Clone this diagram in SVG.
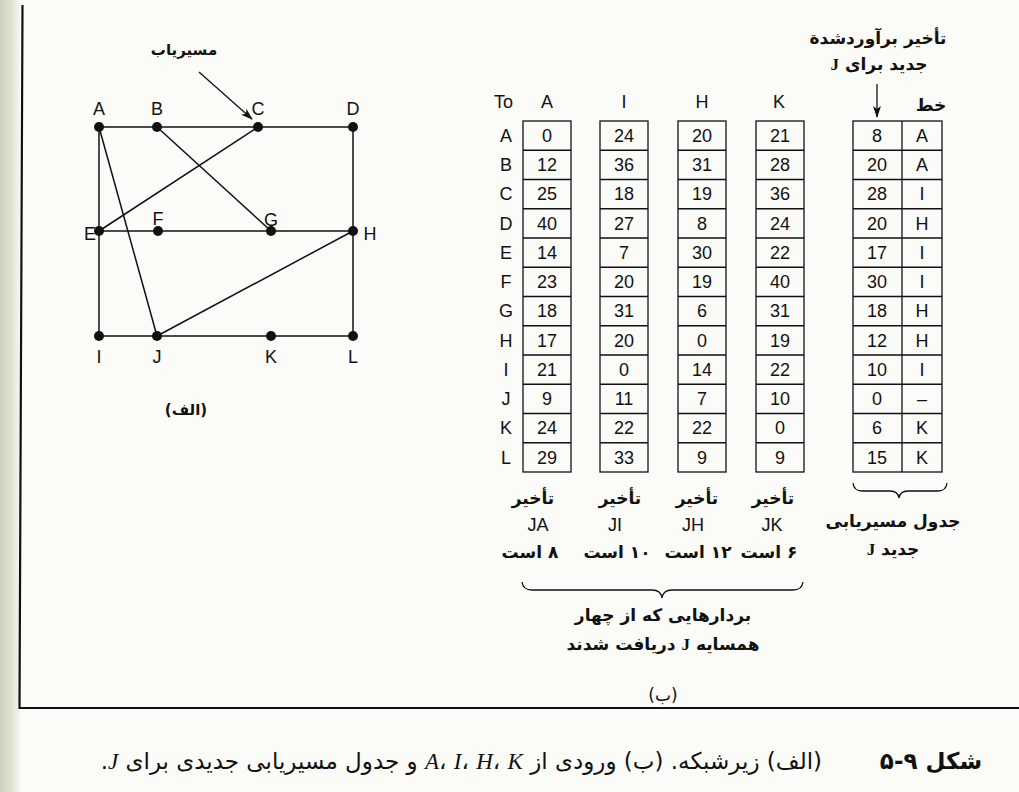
<svg xmlns="http://www.w3.org/2000/svg" width="1019" height="792" viewBox="0 0 1019 792">
<defs>
<linearGradient id="strip" x1="0" y1="0" x2="1" y2="0">
<stop offset="0" stop-color="#cfd0bd"/>
<stop offset="0.6" stop-color="#e2e2d3"/>
<stop offset="1" stop-color="#f6f6f0"/>
</linearGradient>
<marker id="ah" viewBox="0 0 12 8" refX="11" refY="4" markerWidth="12" markerHeight="8" markerUnits="userSpaceOnUse" orient="auto">
<path d="M0,0 L12,4 L0,8 L3,4 Z" fill="#111"/>
</marker>
<style>
.lat{font-family:"Liberation Sans",Arial,sans-serif;fill:#111;}
.fa{font-family:"DejaVu Sans","Noto Sans",sans-serif;fill:#111;}
.fb{font-family:"DejaVu Sans","Noto Sans",sans-serif;fill:#111;font-weight:bold;}
.edge{stroke:#111;stroke-width:1.5;fill:none;}
.nd{fill:#111;}
.box{fill:none;stroke:#111;stroke-width:1.3;}
.num{font-family:"Liberation Sans",Arial,sans-serif;font-size:18px;fill:#111;text-anchor:middle;}
.lbl{font-family:"Liberation Sans",Arial,sans-serif;font-size:18px;fill:#111;text-anchor:middle;}
.brace{fill:none;stroke:#111;stroke-width:1.3;}
</style>
</defs>
<rect x="0" y="0" width="1019" height="792" fill="#fbfbf8"/>
<rect x="0" y="0" width="20" height="792" fill="url(#strip)"/>
<path d="M22.5,5 L19.5,708 L1019,708" fill="none" stroke="#111" stroke-width="2.2"/>

<!-- (a) graph -->
<g id="connectors">
<line class="edge" x1="99" y1="127" x2="353" y2="127"/>
<line class="edge" x1="99" y1="127" x2="99" y2="336"/>
<line class="edge" x1="353" y1="127" x2="353" y2="336"/>
<line class="edge" x1="99" y1="231" x2="353" y2="231"/>
<line class="edge" x1="99" y1="336" x2="353" y2="336"/>
<line class="edge" x1="99" y1="127" x2="157" y2="336"/>
<line class="edge" x1="157" y1="127" x2="271" y2="231"/>
<line class="edge" x1="258" y1="127" x2="99" y2="231"/>
<line class="edge" x1="157" y1="336" x2="353" y2="231"/>
<line x1="199" y1="72" x2="252" y2="119" stroke="#111" stroke-width="1.3" marker-end="url(#ah)"/>
</g>
<text class="fb" x="184" y="55" font-size="15" text-anchor="middle" direction="rtl">مسیریاب</text>

<g id="node-A"><circle class="nd" cx="99" cy="127" r="5"/><text class="lbl" x="99" y="115">A</text></g>
<g id="node-B"><circle class="nd" cx="157" cy="127" r="5"/><text class="lbl" x="157" y="115">B</text></g>
<g id="node-C"><circle class="nd" cx="258" cy="127" r="5"/><text class="lbl" x="258" y="115">C</text></g>
<g id="node-D"><circle class="nd" cx="353" cy="127" r="5"/><text class="lbl" x="353" y="115">D</text></g>
<g id="node-E"><circle class="nd" cx="99" cy="231" r="5"/><text class="lbl" x="90" y="240">E</text></g>
<g id="node-F"><circle class="nd" cx="158" cy="231" r="5"/><text class="lbl" x="158" y="225">F</text></g>
<g id="node-G"><circle class="nd" cx="271" cy="231" r="5"/><text class="lbl" x="271" y="226">G</text></g>
<g id="node-H"><circle class="nd" cx="353" cy="231" r="5"/><text class="lbl" x="370" y="240">H</text></g>
<g id="node-I"><circle class="nd" cx="99" cy="336" r="5"/><text class="lbl" x="99" y="363">I</text></g>
<g id="node-J"><circle class="nd" cx="157" cy="336" r="5"/><text class="lbl" x="157" y="363">J</text></g>
<g id="node-K"><circle class="nd" cx="271" cy="336" r="5"/><text class="lbl" x="271" y="363">K</text></g>
<g id="node-L"><circle class="nd" cx="353" cy="336" r="5"/><text class="lbl" x="353" y="363">L</text></g>
<text class="fb" x="186" y="415" font-size="15" text-anchor="middle" direction="rtl">(الف)</text>

<!-- (b) tables -->
<g id="header">
<text class="lat" x="494" y="108" font-size="18">To</text>
<text class="lbl" x="547" y="108">A</text>
<text class="lbl" x="624" y="108">I</text>
<text class="lbl" x="702" y="108">H</text>
<text class="lbl" x="779" y="108">K</text>
</g>
<g id="row-labels">
<text class="lbl" x="506" y="142">A</text>
<text class="lbl" x="506" y="171">B</text>
<text class="lbl" x="506" y="200">C</text>
<text class="lbl" x="506" y="230">D</text>
<text class="lbl" x="506" y="259">E</text>
<text class="lbl" x="506" y="288">F</text>
<text class="lbl" x="506" y="317">G</text>
<text class="lbl" x="506" y="347">H</text>
<text class="lbl" x="506" y="376">I</text>
<text class="lbl" x="506" y="405">J</text>
<text class="lbl" x="506" y="434">K</text>
<text class="lbl" x="506" y="464">L</text>
</g>

<g id="vec-A">
<rect class="box" x="523" y="121" width="48" height="351"/>
<path class="box" d="M523,150.25H571M523,179.5H571M523,208.75H571M523,238H571M523,267.25H571M523,296.5H571M523,325.75H571M523,355H571M523,384.25H571M523,413.5H571M523,442.75H571"/>
<text class="num" x="547" y="142">0</text><text class="num" x="547" y="171">12</text><text class="num" x="547" y="200">25</text><text class="num" x="547" y="230">40</text><text class="num" x="547" y="259">14</text><text class="num" x="547" y="288">23</text><text class="num" x="547" y="317">18</text><text class="num" x="547" y="347">17</text><text class="num" x="547" y="376">21</text><text class="num" x="547" y="405">9</text><text class="num" x="547" y="434">24</text><text class="num" x="547" y="464">29</text>
</g>
<g id="vec-I">
<rect class="box" x="600" y="121" width="48" height="351"/>
<path class="box" d="M600,150.25H648M600,179.5H648M600,208.75H648M600,238H648M600,267.25H648M600,296.5H648M600,325.75H648M600,355H648M600,384.25H648M600,413.5H648M600,442.75H648"/>
<text class="num" x="624" y="142">24</text><text class="num" x="624" y="171">36</text><text class="num" x="624" y="200">18</text><text class="num" x="624" y="230">27</text><text class="num" x="624" y="259">7</text><text class="num" x="624" y="288">20</text><text class="num" x="624" y="317">31</text><text class="num" x="624" y="347">20</text><text class="num" x="624" y="376">0</text><text class="num" x="624" y="405">11</text><text class="num" x="624" y="434">22</text><text class="num" x="624" y="464">33</text>
</g>
<g id="vec-H">
<rect class="box" x="678" y="121" width="48" height="351"/>
<path class="box" d="M678,150.25H726M678,179.5H726M678,208.75H726M678,238H726M678,267.25H726M678,296.5H726M678,325.75H726M678,355H726M678,384.25H726M678,413.5H726M678,442.75H726"/>
<text class="num" x="702" y="142">20</text><text class="num" x="702" y="171">31</text><text class="num" x="702" y="200">19</text><text class="num" x="702" y="230">8</text><text class="num" x="702" y="259">30</text><text class="num" x="702" y="288">19</text><text class="num" x="702" y="317">6</text><text class="num" x="702" y="347">0</text><text class="num" x="702" y="376">14</text><text class="num" x="702" y="405">7</text><text class="num" x="702" y="434">22</text><text class="num" x="702" y="464">9</text>
</g>
<g id="vec-K">
<rect class="box" x="756" y="121" width="48" height="351"/>
<path class="box" d="M756,150.25H804M756,179.5H804M756,208.75H804M756,238H804M756,267.25H804M756,296.5H804M756,325.75H804M756,355H804M756,384.25H804M756,413.5H804M756,442.75H804"/>
<text class="num" x="780" y="142">21</text><text class="num" x="780" y="171">28</text><text class="num" x="780" y="200">36</text><text class="num" x="780" y="230">24</text><text class="num" x="780" y="259">22</text><text class="num" x="780" y="288">40</text><text class="num" x="780" y="317">31</text><text class="num" x="780" y="347">19</text><text class="num" x="780" y="376">22</text><text class="num" x="780" y="405">10</text><text class="num" x="780" y="434">0</text><text class="num" x="780" y="464">9</text>
</g>

<g id="new-table">
<rect class="box" x="853" y="121" width="89" height="351"/>
<path class="box" d="M902,121V472M853,150.25H942M853,179.5H942M853,208.75H942M853,238H942M853,267.25H942M853,296.5H942M853,325.75H942M853,355H942M853,384.25H942M853,413.5H942M853,442.75H942"/>
<text class="num" x="877" y="142">8</text><text class="num" x="877" y="171">20</text><text class="num" x="877" y="200">28</text><text class="num" x="877" y="230">20</text><text class="num" x="877" y="259">17</text><text class="num" x="877" y="288">30</text><text class="num" x="877" y="317">18</text><text class="num" x="877" y="347">12</text><text class="num" x="877" y="376">10</text><text class="num" x="877" y="405">0</text><text class="num" x="877" y="434">6</text><text class="num" x="877" y="464">15</text>
<text class="num" x="922" y="142">A</text><text class="num" x="922" y="171">A</text><text class="num" x="922" y="200">I</text><text class="num" x="922" y="230">H</text><text class="num" x="922" y="259">I</text><text class="num" x="922" y="288">I</text><text class="num" x="922" y="317">H</text><text class="num" x="922" y="347">H</text><text class="num" x="922" y="376">I</text><text class="num" x="922" y="405">–</text><text class="num" x="922" y="434">K</text><text class="num" x="922" y="464">K</text>
</g>

<g id="new-table-title">
<text class="fb" x="878" y="44" font-size="17" text-anchor="middle" direction="rtl">تأخیر برآوردشدة</text>
<text class="fb" x="879" y="70" font-size="17" text-anchor="middle" direction="rtl">جدید برای <tspan font-family="Liberation Serif">J</tspan></text>
<line x1="877" y1="84" x2="877" y2="117" stroke="#111" stroke-width="1.3" marker-end="url(#ah)"/>
<text class="fb" x="931" y="111" font-size="17" text-anchor="middle" direction="rtl">خط</text>
</g>

<g id="delay-labels">
<text class="fb" x="533" y="504" font-size="17" text-anchor="middle" direction="rtl">تأخیر</text>
<text class="fb" x="620" y="504" font-size="17" text-anchor="middle" direction="rtl">تأخیر</text>
<text class="fb" x="697" y="504" font-size="17" text-anchor="middle" direction="rtl">تأخیر</text>
<text class="fb" x="773" y="504" font-size="17" text-anchor="middle" direction="rtl">تأخیر</text>
<text class="lat" x="538" y="531" font-size="18" text-anchor="middle">JA</text>
<text class="lat" x="615" y="531" font-size="18" text-anchor="middle">JI</text>
<text class="lat" x="693" y="531" font-size="18" text-anchor="middle">JH</text>
<text class="lat" x="772" y="531" font-size="18" text-anchor="middle">JK</text>
<text class="fb" x="530" y="558" font-size="17" text-anchor="middle" direction="rtl">۸ است</text>
<text class="fb" x="617" y="558" font-size="17" text-anchor="middle" direction="rtl">۱۰ است</text>
<text class="fb" x="698" y="558" font-size="17" text-anchor="middle" direction="rtl">۱۲ است</text>
<text class="fb" x="769" y="558" font-size="17" text-anchor="middle" direction="rtl">۶ است</text>
</g>

<g id="connectors-braces">
<path class="brace" d="M522,582 Q523,590 532,590 L652,590 Q661,590 662,598 Q663,590 672,590 L793,590 Q802,590 803,582"/>
<path class="brace" d="M853,483 Q854,491 862,491 L890,491 Q898,491 899,498 Q900,491 908,491 L938,491 Q946,491 947,483"/>
</g>

<g id="vectors-caption">
<text class="fb" x="663" y="621" font-size="17" text-anchor="middle" direction="rtl">بردارهایی که از چهار</text>
<text class="fb" x="663" y="650" font-size="17" text-anchor="middle" direction="rtl">همسایه <tspan font-family="Liberation Serif">J</tspan> دریافت شدند</text>
<text class="fa" x="663" y="701" font-size="17" text-anchor="middle" direction="rtl">(ب)</text>
</g>

<g id="table-caption">
<text class="fb" x="893" y="527" font-size="17" text-anchor="middle" direction="rtl">جدول مسیریابی</text>
<text class="fb" x="893" y="555" font-size="17" text-anchor="middle" direction="rtl">جدید <tspan font-family="Liberation Serif">J</tspan></text>
</g>

<g id="figure-caption">
<text class="fb" x="982" y="769" font-size="23" text-anchor="start" direction="rtl">شکل ۹-۵</text>
<text class="fa" x="822" y="769" font-size="23" text-anchor="start" direction="rtl">(الف) زیرشبکه. (ب) ورودی از <tspan font-family="Liberation Serif" font-style="italic">A</tspan>، <tspan font-family="Liberation Serif" font-style="italic">I</tspan>، <tspan font-family="Liberation Serif" font-style="italic">H</tspan>، <tspan font-family="Liberation Serif" font-style="italic">K</tspan> و جدول مسیریابی جدیدی برای <tspan font-family="Liberation Serif" font-style="italic">J</tspan>.</text>
</g>
</svg>
